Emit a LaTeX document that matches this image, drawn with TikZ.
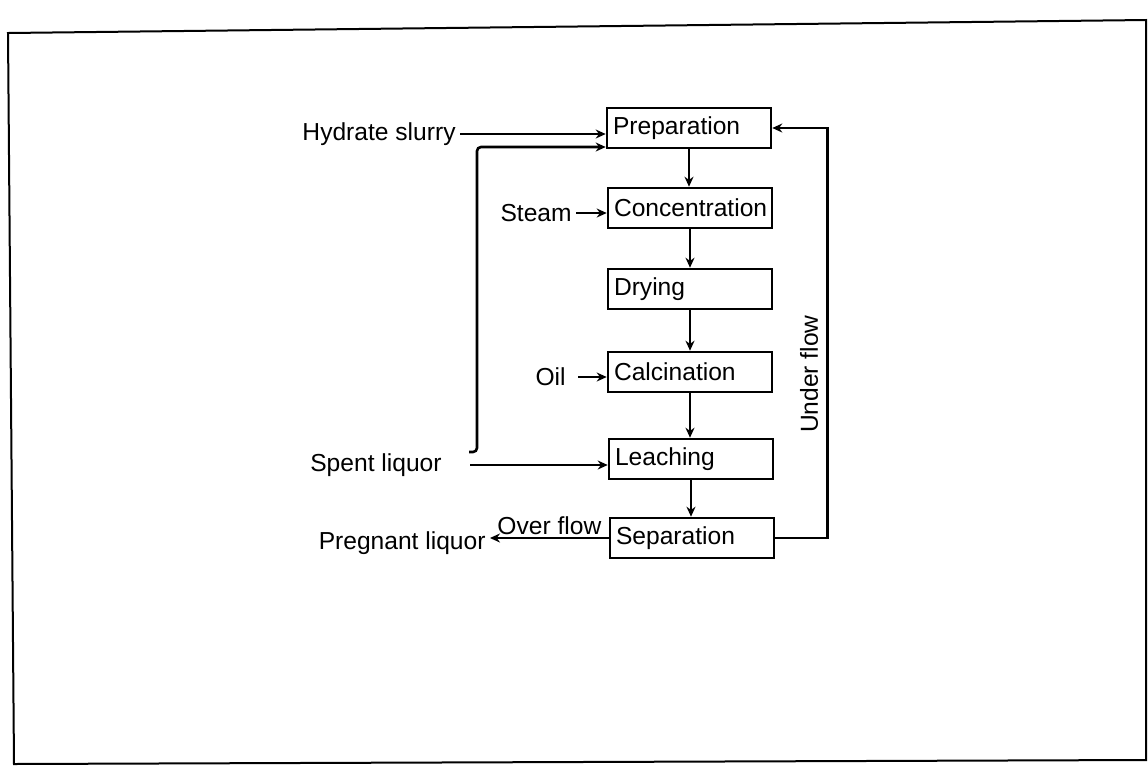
\documentclass[tikz,border=0pt]{standalone}
\usepackage{fontspec}
\setmainfont{Liberation Sans}
\usetikzlibrary{arrows.meta}

\begin{document}
\begin{tikzpicture}[x=0.5pt,y=-0.5pt,
    stage/.style={draw,line width=1.3pt,text width=76pt,inner xsep=3pt,minimum height=20pt,align=left,font=\fontsize{12.3}{14}\selectfont},
    feed/.style={inner sep=2pt,font=\fontsize{12.3}{14}\selectfont},
    flow/.style={line width=1.3pt,-{Stealth[length=5pt,width=4.5pt]}}]
    \useasboundingbox (0,0) rectangle (1148,773);
    \draw[line width=1pt] (8,33) -- (1146,20) -- (1146,760) -- (14,764) -- cycle;
    % process column
    \node[stage] (prep) at (689,128) {Preparation};
    \node[stage] (conc) at (690,208) {Concentration};
    \node[stage] (dry) at (690,289) {Drying};
    \node[stage] (calc) at (690,372) {Calcination};
    \node[stage] (leach) at (691,459) {Leaching};
    \node[stage] (sep) at (692,538) {Separation};
    \draw[flow] (prep) -- (prep |- conc.north);
    \draw[flow] (conc) -- (conc |- dry.north);
    \draw[flow] (dry) -- (dry |- calc.north);
    \draw[flow] (calc) -- (calc |- leach.north);
    \draw[flow] (leach) -- (leach |- sep.north);
    % feeds
    \node[feed,anchor=east] (hyd) at (460,134) {Hydrate slurry};
    \node[feed,anchor=east] (steam) at (576,213) {Steam};
    \node[feed,anchor=east] (oil) at (570,377) {Oil};
    \node[feed,anchor=east] (spent) at (446,465) {Spent liquor};
    \node[feed,anchor=east] (preg) at (490,543) {Pregnant liquor};
    \draw[flow] (hyd.east) -- (hyd.east -| prep.west);
    \draw[flow] (steam.east) -- (steam.east -| conc.west);
    \draw[flow] ([xshift=4pt]oil.east) -- (oil.east -| calc.west);
    \draw[flow] ([xshift=12pt]spent.east) -- (spent.east -| leach.west);
    % recycle of spent liquor
    \coordinate (hook) at (469,452);
    \coordinate (rise) at (477,147);
    \draw[flow,rounded corners=2pt] (hook) -| (rise) -- (rise -| prep.west);
    % outlets
    \draw[flow] (sep.west) -- (sep.west -| preg.east)
        node[midway,above,inner sep=1pt,font=\fontsize{12.3}{14}\selectfont] {Over flow};
    \draw[flow] (sep.east) -- ++(52,0) |- (prep.east)
        node[pos=0.2,rotate=90,anchor=south,inner sep=4pt,font=\fontsize{12.3}{14}\selectfont] {Under flow};
\end{tikzpicture}
\end{document}
